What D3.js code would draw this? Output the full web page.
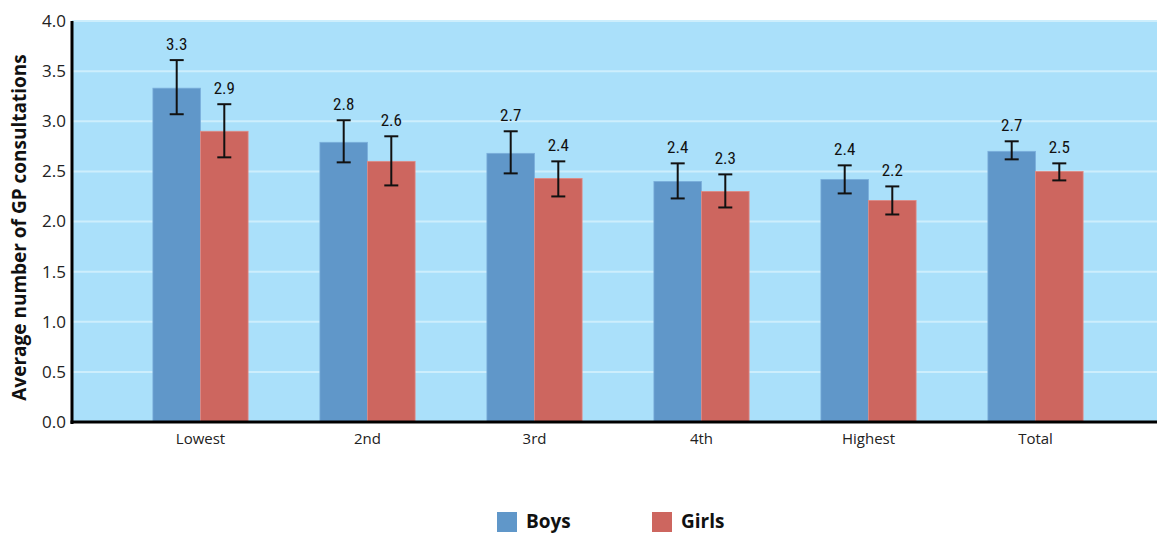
<!DOCTYPE html>
<html><head><meta charset="utf-8">
<script src="https://cdn.jsdelivr.net/npm/d3@7"></script>
<style>body{margin:0;background:#fff}svg{display:block}</style>
</head><body>
<svg id="c" width="1157" height="533"></svg>
<script>
const categories = ["Lowest","2nd","3rd","4th","Highest","Total"];
const seriesNames = ["Boys","Girls"];
const boys = [3.33, 2.79, 2.68, 2.40, 2.42, 2.70];
const girls = [2.90, 2.60, 2.43, 2.30, 2.21, 2.50];
const boysLo = [3.07, 2.59, 2.48, 2.23, 2.28, 2.62];
const boysHi = [3.61, 3.01, 2.90, 2.58, 2.56, 2.80];
const girlsLo = [2.64, 2.36, 2.25, 2.14, 2.07, 2.41];
const girlsHi = [3.17, 2.85, 2.60, 2.47, 2.35, 2.58];
const boysLabels = ["3.3","2.8","2.7","2.4","2.4","2.7"];
const girlsLabels = ["2.9","2.6","2.4","2.3","2.2","2.5"];
const yTicks = [0,0.5,1,1.5,2,2.5,3,3.5,4];
const colors = ["#6097c9","#cd665f"];

(function(){
const svg = d3.select("#c");
const pL = 72, pR = 1157, pT = 21, pB = 422;
const y = d3.scaleLinear().domain([0,4]).range([pB, pT]);
const x = d3.scaleBand().domain(categories).range([117, 1119]).paddingInner(0.43).paddingOuter(0.215);
const xs = d3.scaleBand().domain(seriesNames).range([0, x.bandwidth()]);

svg.append("rect").attr("x", pL).attr("y", pT).attr("width", pR-pL).attr("height", pB-pT).attr("fill", "#aae0fa");
svg.append("g").selectAll("line").data(yTicks.filter(d=>d>0)).join("line")
  .attr("x1", pL).attr("x2", pR).attr("y1", d=>y(d)).attr("y2", d=>y(d))
  .attr("stroke", "#cdeefc").attr("stroke-width", 2);

const series = [
  {name:"Boys", vals:boys, lo:boysLo, hi:boysHi, labels:boysLabels},
  {name:"Girls", vals:girls, lo:girlsLo, hi:girlsHi, labels:girlsLabels}
];
series.forEach((s,si)=>{
  const g = svg.append("g");
  const cx = c => x(c) + xs(s.name) + xs.bandwidth()/2;
  g.selectAll("rect").data(categories).join("rect")
    .attr("x", c=>x(c)+xs(s.name)).attr("width", xs.bandwidth())
    .attr("y", (c,i)=>y(s.vals[i])).attr("height", (c,i)=>y(0)-y(s.vals[i]))
    .attr("fill", colors[si]).attr("stroke", si===0?"#7aaedb":"#e08a84").attr("stroke-width",0.8);
  categories.forEach((c,i)=>{
    const xc = cx(c);
    g.append("line").attr("x1",xc).attr("x2",xc).attr("y1",y(s.hi[i])).attr("y2",y(s.lo[i])).attr("stroke","#111").attr("stroke-width",2);
    [s.hi[i], s.lo[i]].forEach(v=>g.append("line").attr("x1",xc-7).attr("x2",xc+7).attr("y1",y(v)).attr("y2",y(v)).attr("stroke","#111").attr("stroke-width",2));
    g.append("text").attr("x",xc).attr("y",y(s.hi[i])-10).attr("text-anchor","middle")
      .attr("font-family","'Liberation Sans Narrow','Roboto Condensed','Liberation Sans',sans-serif")
      .attr("font-size",17).attr("fill","#111").text(s.labels[i]);
  });
});

const yAxis = svg.append("g").attr("transform",`translate(${pL},0)`)
  .call(d3.axisLeft(y).tickValues(yTicks).tickFormat(d3.format(".1f")).tickSize(0).tickPadding(6));
yAxis.select(".domain").remove();
yAxis.selectAll("text").attr("font-family","'Open Sans','Noto Sans',sans-serif").style("font-size","17px").attr("fill","#222");
const xAxis = svg.append("g").attr("transform",`translate(0,${pB})`)
  .call(d3.axisBottom(x).tickSize(0).tickPadding(11));
xAxis.select(".domain").remove();
xAxis.selectAll("text").attr("font-family","'Open Sans','Noto Sans',sans-serif").style("font-size","15px").attr("fill","#222");
svg.append("line").attr("x1",pL).attr("x2",pL).attr("y1",pT).attr("y2",pB+2).attr("stroke","#000").attr("stroke-width",3);
svg.append("line").attr("x1",pL-1.5).attr("x2",pR).attr("y1",pB).attr("y2",pB).attr("stroke","#000").attr("stroke-width",3);

svg.append("text").attr("transform",`translate(26,${(pT+pB)/2+6}) rotate(-90)`).attr("text-anchor","middle")
  .attr("font-family","'Open Sans','Noto Sans',sans-serif").attr("font-weight","bold").attr("font-size",19).attr("fill","#111")
  .text("Average number of GP consultations");

const legX = [497, 652];
seriesNames.forEach((n,i)=>{
  svg.append("rect").attr("x",legX[i]).attr("y",512).attr("width",20).attr("height",20).attr("fill",colors[i]);
  svg.append("text").attr("x",legX[i]+29).attr("y",528).attr("font-family","'Open Sans','Noto Sans',sans-serif")
    .attr("font-weight","bold").attr("font-size",19).attr("fill","#111").text(n);
});
})();
</script>
</body></html>
